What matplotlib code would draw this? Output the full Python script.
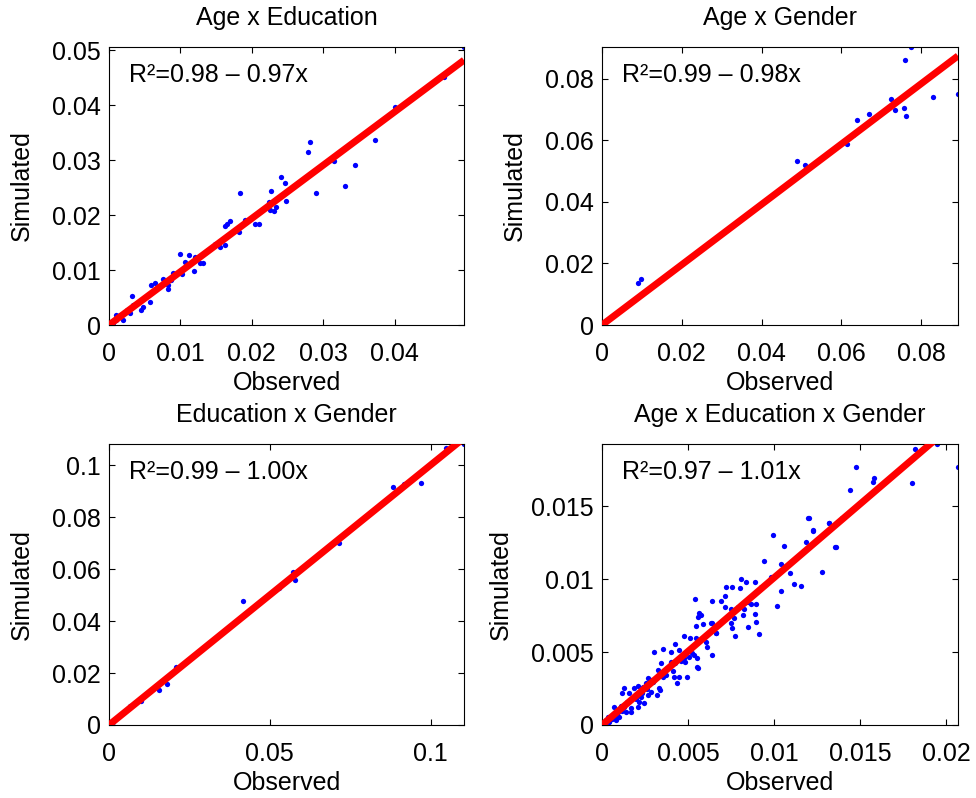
import matplotlib
matplotlib.use("Agg")
import matplotlib.pyplot as plt
from matplotlib.ticker import MultipleLocator, FuncFormatter

plt.rcParams["font.family"] = ["Liberation Sans", "DejaVu Sans"]

# ---- data ----------------------------------------------------------------
titles = ["Age x Education", "Age x Gender", "Education x Gender", "Age x Education x Gender"]
r2_text = ["R²=0.98 – 0.97x", "R²=0.99 – 0.98x", "R²=0.99 – 1.00x", "R²=0.97 – 1.01x"]
slopes = [0.97, 0.98, 1.00, 1.01]
tick_steps = [(0.01, 0.01), (0.02, 0.02), (0.05, 0.02), (0.005, 0.005)]

# Age x Education
obs_ae = [0.0497, 0.0469, 0.0401, 0.0372, 0.0345, 0.0330, 0.0315, 0.0282, 0.0279, 0.0290,
          0.0241, 0.0247, 0.0248, 0.0227, 0.0224, 0.0226, 0.0231, 0.0234, 0.0204, 0.0210,
          0.0191, 0.0183, 0.0182, 0.0169, 0.0165, 0.0163, 0.0163, 0.0156, 0.0148, 0.0131,
          0.0127, 0.0120, 0.0119, 0.0112, 0.0107, 0.0099, 0.0102, 0.0090, 0.0087, 0.0082,
          0.0082, 0.0076, 0.0065, 0.0059, 0.0058, 0.0048, 0.0045, 0.0032, 0.0033, 0.0030,
          0.0025, 0.0020, 0.0016, 0.0010, 0.0010, 0.0005, 0.0]
sim_ae = [0.0506, 0.0452, 0.0397, 0.0337, 0.0291, 0.0253, 0.0299, 0.0333, 0.0314, 0.0240,
          0.0269, 0.0258, 0.0225, 0.0243, 0.0224, 0.0210, 0.0208, 0.0215, 0.0183, 0.0183,
          0.0192, 0.0240, 0.0170, 0.0190, 0.0184, 0.0181, 0.0145, 0.0142, 0.0147, 0.0112,
          0.0112, 0.0124, 0.0098, 0.0128, 0.0115, 0.0130, 0.0092, 0.0094, 0.0082, 0.0073,
          0.0065, 0.0083, 0.0077, 0.0073, 0.0042, 0.0032, 0.0028, 0.0053, 0.0036, 0.0021,
          0.0027, 0.0009, 0.0018, 0.0018, 0.0009, 0.0004, 0.0]

# Age x Gender
obs_ag = [0.0, 0.0089, 0.0097, 0.0489, 0.0508, 0.0614, 0.0629, 0.0639, 0.0669, 0.0723,
          0.0733, 0.0757, 0.0762, 0.0758, 0.0775, 0.0829, 0.0892]
sim_ag = [0.0, 0.0138, 0.0151, 0.0533, 0.0519, 0.0588, 0.0616, 0.0665, 0.0684, 0.0735,
          0.0697, 0.0704, 0.0679, 0.0860, 0.0903, 0.0739, 0.0751]

# Education x Gender
obs_eg = [0.0, 0.0011, 0.0065, 0.0099, 0.0156, 0.0180, 0.0207, 0.0418, 0.0530, 0.0573,
          0.0579, 0.0715, 0.0884, 0.0917, 0.0971, 0.1047, 0.1104]
sim_eg = [0.0, 0.0013, 0.0073, 0.0094, 0.0136, 0.0158, 0.0222, 0.0476, 0.0526, 0.0588,
          0.0556, 0.0699, 0.0917, 0.0926, 0.0932, 0.1067, 0.1081]

# Age x Education x Gender (values in 1e-3)
obs_aeg = [19.45, 18.16, 20.67, 14.77, 15.80, 15.74, 18.00, 14.38, 13.94, 13.18,
           12.00, 12.25, 13.55, 11.96, 13.17, 12.26, 9.93, 11.87, 13.57, 10.55,
           9.41, 10.42, 10.67, 10.94, 12.78, 9.80, 11.13, 11.54, 8.05, 8.38,
           8.91, 7.22, 7.55, 8.00, 9.22, 10.38, 7.12, 5.40, 6.39, 6.93,
           7.12, 7.51, 7.90, 8.25, 8.48, 8.64, 8.96, 10.18, 5.63, 5.77,
           5.58, 7.67, 8.19, 8.87, 6.31, 6.41, 5.86, 5.44, 7.47, 8.96,
           7.55, 8.48, 4.74, 5.13, 5.44, 6.60, 7.75, 9.10, 6.02, 6.12,
           4.26, 4.49, 3.52, 3.04, 4.01, 4.78, 5.08, 5.37, 5.50, 5.56,
           6.37, 3.43, 4.01, 4.26, 4.84, 3.23, 3.72, 4.20, 4.49, 4.94,
           5.50, 2.65, 2.85, 2.94, 2.56, 2.36, 2.07, 1.88, 1.30, 1.16,
           1.59, 3.33, 2.85, 2.65, 3.18, 3.39, 4.34, 2.27, 2.17, 2.46,
           2.07, 1.68, 1.10, 0.68, 0.91, 1.39, 1.68, 1.01, 0.33, 0.23,
           0.52, 0.81, 0.04, 0.43, 0.00, 0.10, 0.15, 0.30, 0.50, 0.70,
           0.95, 1.30, 1.80, 2.30, 3.00, 3.80, 6.60, 0.60, 0.85, 1.15,
           1.45, 1.95, 2.60, 3.55, 4.10, 4.60, 5.20, 0.20, 0.40, 0.75]
sim_aeg = [19.25, 18.88, 17.69, 17.69, 16.89, 16.67, 16.55, 16.10, 14.16, 13.81,
           14.16, 13.36, 12.21, 14.16, 13.81, 13.31, 13.01, 12.53, 12.21, 12.26,
           11.25, 11.00, 10.89, 10.43, 10.50, 10.16, 9.63, 9.52, 10.00, 9.82,
           9.82, 9.47, 9.47, 9.36, 9.47, 9.20, 8.86, 8.61, 8.47, 8.49,
           8.06, 7.92, 8.11, 7.95, 8.45, 8.27, 8.27, 8.18, 7.65, 7.53,
           7.42, 7.31, 7.53, 7.60, 6.96, 6.96, 6.89, 6.78, 6.96, 7.08,
           6.62, 6.74, 6.10, 5.98, 5.94, 6.32, 6.12, 6.21, 5.71, 5.37,
           5.52, 5.14, 5.21, 5.02, 5.02, 4.57, 4.64, 4.79, 4.61, 3.88,
           4.79, 4.27, 4.34, 4.22, 4.34, 3.77, 3.42, 3.31, 3.31, 3.31,
           3.95, 3.20, 3.08, 2.97, 2.85, 2.63, 2.67, 2.51, 2.51, 2.17,
           2.17, 2.51, 2.28, 2.05, 2.05, 2.40, 2.85, 1.94, 1.60, 1.48,
           1.26, 1.14, 1.30, 1.26, 0.91, 0.91, 0.91, 0.57, 0.57, 0.35,
           0.46, 0.35, 0.11, 0.23, 0.16, 0.05, 0.20, 0.25, 0.55, 0.65,
           1.00, 1.25, 1.85, 2.20, 3.05, 3.90, 6.30, 0.40, 0.70, 0.95,
           1.60, 1.75, 2.45, 3.30, 3.70, 4.40, 4.95, 0.10, 0.30, 0.50]
obs_aeg = [v / 1000 for v in obs_aeg]
sim_aeg = [v / 1000 for v in sim_aeg]

observed = [obs_ae, obs_ag, obs_eg, obs_aeg]
simulated = [sim_ae, sim_ag, sim_eg, sim_aeg]

# ---- figure ---------------------------------------------------------------
fig = plt.figure(figsize=(9.76, 7.98), dpi=100)
positions = [
    [109 / 976, 1 - 325 / 798, 355 / 976, 278 / 798],
    [602 / 976, 1 - 325 / 798, 356 / 976, 278 / 798],
    [109 / 976, 1 - 725 / 798, 355 / 976, 281 / 798],
    [602 / 976, 1 - 725 / 798, 356 / 976, 281 / 798],
]

fmt = FuncFormatter(lambda v, pos: "%g" % round(v, 6))
FS = 18

for i in range(4):
    ax = fig.add_axes(positions[i])
    xs, ys = observed[i], simulated[i]
    ax.plot(xs, ys, "o", color="#0000ff", ms=3.8, mec="none", zorder=2)
    xmax = max(xs)
    ax.plot([0, xmax], [0, slopes[i] * xmax], color="#ff0000", lw=5,
            solid_capstyle="butt", zorder=3)
    ax.set_xlim(0, xmax)
    ax.set_ylim(0, max(ys))
    ax.xaxis.set_major_locator(MultipleLocator(tick_steps[i][0]))
    ax.yaxis.set_major_locator(MultipleLocator(tick_steps[i][1]))
    ax.xaxis.set_major_formatter(fmt)
    ax.yaxis.set_major_formatter(fmt)
    ax.tick_params(direction="in", length=4, width=0.8, top=True, right=True,
                   labelsize=FS)
    ax.tick_params(axis="x", pad=12)
    ax.tick_params(axis="y", pad=6)
    for sp in ax.spines.values():
        sp.set_linewidth(0.8)
    ax.set_title(titles[i], fontsize=FS, pad=16)
    ax.set_xlabel("Observed", fontsize=FS, labelpad=4)
    ax.set_ylabel("Simulated", fontsize=FS, labelpad=13)
    ax.text(0.055, 0.90, r2_text[i], transform=ax.transAxes, fontsize=FS,
            va="center", ha="left")

fig.savefig("out.png", dpi=100)
